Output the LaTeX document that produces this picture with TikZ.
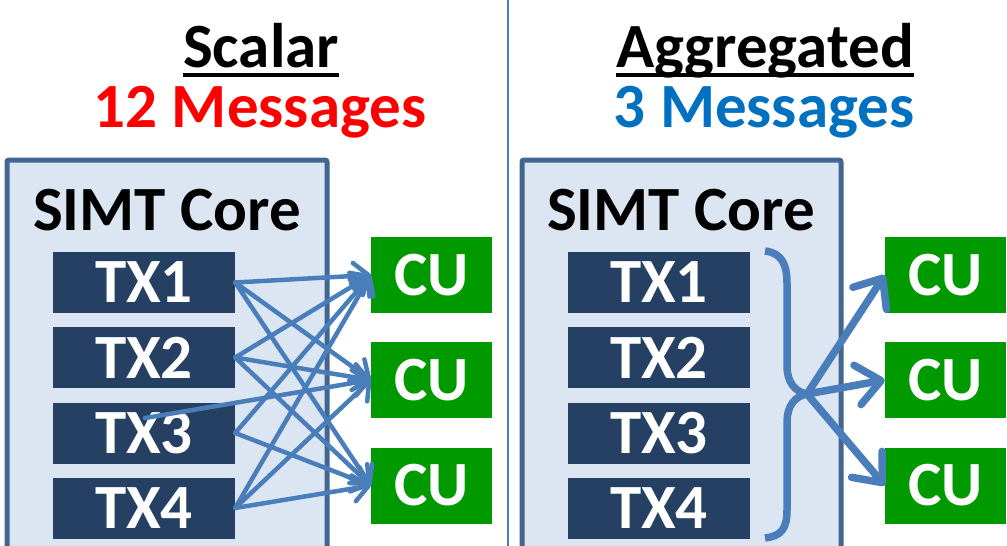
\documentclass[tikz,border=0pt]{standalone}
\usepackage{fontspec}
\setmainfont{Carlito}
\usetikzlibrary{arrows.meta,calc}
\definecolor{corefill}{HTML}{DCE6F2}
\definecolor{coreline}{HTML}{41668F}
\definecolor{txfill}{HTML}{264063}
\definecolor{cufill}{HTML}{009900}
\definecolor{arrowblue}{HTML}{4A7EBB}
\definecolor{msgblue}{HTML}{0070C0}
\definecolor{msgred}{HTML}{FF0000}
\tikzset{
  bigtext/.style={font=\fontsize{63}{70}\selectfont\bfseries, inner sep=0pt},
  corebox/.style={fill=corefill, draw=coreline, line width=5pt, rounded corners=2pt},
  txbox/.style={fill=txfill, text=white, minimum width=182pt, minimum height=61pt, inner sep=0pt, font=\fontsize{63}{70}\selectfont\bfseries},
  cubox/.style={fill=cufill, text=white, minimum width=121pt, minimum height=76pt, inner sep=0pt, font=\fontsize{63}{70}\selectfont\bfseries},
  msg/.style={draw=arrowblue, line width=4.5pt, line cap=round, -{Straight Barb[length=15pt,width=26pt,round]}},
  aggmsg/.style={draw=arrowblue, line width=7.5pt, line cap=round, -{Straight Barb[length=24pt,width=40pt,round]}},
  bracestyle/.style={draw=arrowblue, line width=7.5pt},
  divider/.style={draw=arrowblue, line width=2.5pt},
  ulinestyle/.style={draw=black, line width=4.5pt}
}
\begin{document}
\begin{tikzpicture}[x=1pt,y=-1pt]
\useasboundingbox (0,0) rectangle (1007,546);
\clip (0,0) rectangle (1007,546);
% divider
\draw[divider] (508,0) -- (508,546);
% titles
\node[bigtext, anchor=base] (scalar) at (261,67) {Scalar};
\draw[ulinestyle] ([yshift=-8pt]scalar.base west) -- ([yshift=-8pt]scalar.base east);
\node[bigtext, anchor=base, text=msgred] (msg12) at (260,127) {12 Messages};
\node[bigtext, anchor=base] (aggr) at (765,67) {Aggregated};
\draw[ulinestyle] ([yshift=-8pt]aggr.base west) -- ([yshift=-8pt]aggr.base east);
\node[bigtext, anchor=base, text=msgblue] (msg3) at (764,127) {3 Messages};
% core boxes
\draw[corebox] (7,160) rectangle (327,570);
\draw[corebox] (522,160) rectangle (841,570);
\node[bigtext, anchor=base] (coreL) at (167,230) {SIMT Core};
\node[bigtext, anchor=base] (coreR) at (681,230) {SIMT Core};
% left TX
\node[txbox] (ltx1) at (144,282.5) {TX1};
\node[txbox] (ltx2) at (144,357.5) {TX2};
\node[txbox] (ltx3) at (144,433) {TX3};
\node[txbox] (ltx4) at (144,508) {TX4};
% right TX
\node[txbox] (rtx1) at (659,282.5) {TX1};
\node[txbox] (rtx2) at (659,357.5) {TX2};
\node[txbox] (rtx3) at (659,433) {TX3};
\node[txbox] (rtx4) at (659,508) {TX4};
% left CU
\node[cubox] (lcu1) at (431.5,275) {CU};
\node[cubox] (lcu2) at (431.5,380) {CU};
\node[cubox] (lcu3) at (431.5,485.5) {CU};
% right CU
\node[cubox] (rcu1) at (945.5,275) {CU};
\node[cubox] (rcu2) at (945.5,380) {CU};
\node[cubox] (rcu3) at (945.5,485.5) {CU};
% scalar messages
\coordinate (tx3start) at ($(ltx3.center)+(1,-15)$);
\foreach \c in {1,2,3}{
  \draw[msg] (ltx1.east) -- (lcu\c.west);
  \draw[msg] (ltx2.east) -- (lcu\c.west);
  \draw[msg] (ltx4.east) -- (lcu\c.west);
}
\draw[msg] (ltx3.east) -- (lcu1.west);
\draw[msg] (tx3start) -- (lcu2.west);
\draw[msg] (ltx3.east) -- (lcu3.west);
% brace
\coordinate (tip) at (807,394);
\draw[bracestyle]
  (765,251) .. controls (782,253) and (787,265) .. (787,283)
  -- (787,366) .. controls (787,382) and (795,392) .. (tip)
  .. controls (795,396) and (787,406) .. (787,422)
  -- (787,510) .. controls (787,528) and (782,536) .. (765,538);
% aggregated messages
\draw[aggmsg] (tip) -- (rcu1.west);
\draw[aggmsg] (tip) -- (rcu2.west);
\draw[aggmsg] (tip) -- (rcu3.west);
\end{tikzpicture}
\end{document}
